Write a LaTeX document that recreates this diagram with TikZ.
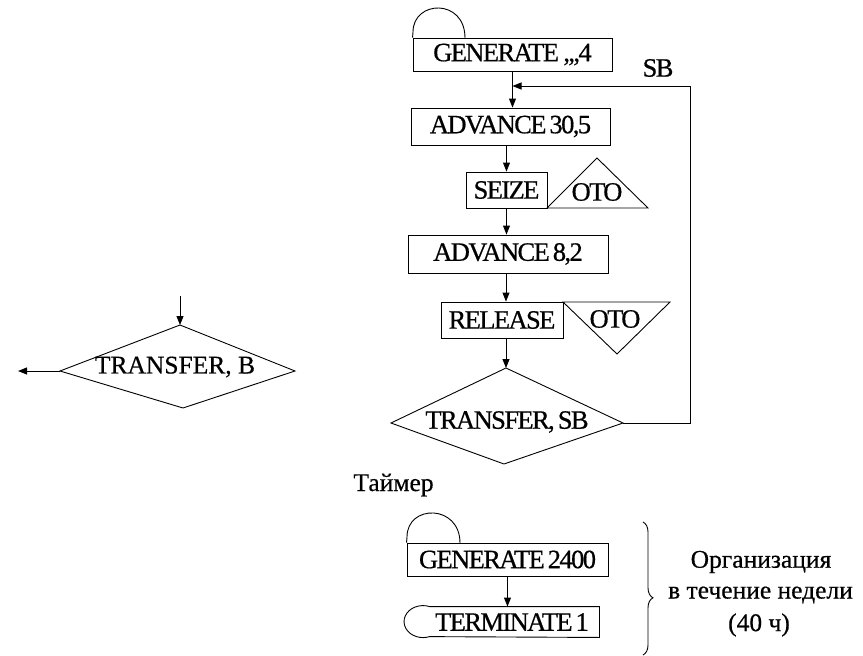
\documentclass[tikz,border=0pt]{standalone}
\usepackage{fontspec}
\setmainfont{Liberation Serif}[FakeBold=0.5]
\newfontfamily\blockfont[LetterSpace=-6,WordSpace=0.6,FakeBold=0.6]{Liberation Serif}
\usetikzlibrary{arrows.meta,decorations.pathreplacing}

\begin{document}
\begin{tikzpicture}[x=1pt,y=-1pt,
  line width=0.9pt,
  block/.style={draw, inner sep=0pt, font=\blockfont\fontsize{26.5}{28}\selectfont},
  blocktext/.style={inner sep=0pt, font=\blockfont\fontsize{26.5}{28}\selectfont},
  plain/.style={inner sep=0pt, font=\fontsize{25.5}{27}\selectfont},
  arr/.style={-{Triangle[length=9pt,width=7pt]}},
  ]
\useasboundingbox (0,0) rectangle (863,656);

% ---- main model: customers ----
\node[block, minimum width=199pt, minimum height=33pt] (gen1) at (512.5,54.5) {GENERATE\,,{},{},4};
\draw (gen1.north west) -- (413,32) .. controls (413,0) and (465,-2) .. (465,38);

\node[block, minimum width=199pt, minimum height=37pt] (adv1) at (510.5,126.5) {ADVANCE 30,5};
\node[block, minimum width=81pt, minimum height=36pt] (seize) at (506.5,190) {SEIZE};
\coordinate (t1L) at (547,208);
\coordinate (t1T) at (597,158);
\coordinate (t1R) at (648,208);
\draw (t1L) -- (t1T) -- (t1R) -- cycle;
\node[blocktext] (oto1) at (597,192) {OTO};

\node[block, minimum width=200pt, minimum height=38pt] (adv2) at (508,254) {ADVANCE 8,2};
\node[block, minimum width=122pt, minimum height=36pt] (rel) at (502,320) {RELEASE};
\coordinate (t2L) at (563,302);
\coordinate (t2R) at (670,302);
\coordinate (t2B) at (617,354);
\draw (t2L) -- (t2R) -- (t2B) -- cycle;
\node[blocktext] (oto2) at (615,319) {OTO};

\coordinate (sT) at (506,368);
\coordinate (sR) at (623,423);
\coordinate (sB) at (504,464);
\coordinate (sL) at (391,423);
\draw (sT) -- (sR) -- (sB) -- (sL) -- cycle;
\node[blocktext] (tsb) at (507,422) {TRANSFER, SB};

\draw[arr] (gen1.south) -- (gen1.south |- adv1.north);
\draw[arr] (adv1.south -| seize.north) -- (seize.north);
\draw[arr] (seize.south) -- (seize.south |- adv2.north);
\draw[arr] (adv2.south -| sT) -- (sT |- rel.north);
\draw[arr] (rel.south -| sT) -- (sT);

% loop back to label SB
\coordinate (loopTop) at (690,86);
\coordinate (join) at (512.5,86);
\draw[arr] (sR) -| (loopTop) -- (join);
\node[blocktext] (sb) at (658,68) {SB};

% ---- generic TRANSFER block ----
\coordinate (bT) at (180,325);
\coordinate (bR) at (295,371);
\coordinate (bB) at (183,408);
\coordinate (bL) at (60,371);
\draw (bT) -- (bR) -- (bB) -- (bL) -- cycle;
\node[plain] (tb) at (175,367) {TRANSFER, B};
\coordinate (bIn) at (180,296);
\coordinate (bOut) at (18,371);
\draw[arr] (bIn) -- (bT);
\draw[arr] (bL) -- (bOut);

% ---- timer segment ----
\node[plain] (timer) at (393.5,485) {Таймер};

\node[block, minimum width=201pt, minimum height=33pt] (gen2) at (507.5,559.5) {GENERATE 2400};
\draw (gen2.north west) -- (407,537) .. controls (407,504) and (460,504) .. (460,543);

\node[minimum width=169pt, minimum height=30pt, inner sep=0pt] (term) at (514.5,622) {};
\node[blocktext] (termtext) at (512,622) {TERMINATE 1};
\draw (term.north east) -- (term.north west)
  arc[start angle=-70, end angle=-290, x radius=19, y radius=16]
  -- (term.south east) -- cycle;

\draw[arr] (gen2.south) -- (gen2.south |- term.north);

\coordinate (brTop) at (643,522);
\coordinate (brBot) at (643,655);
\draw[decorate, decoration={brace, amplitude=10pt, aspect=0.57}] (brTop) -- (brBot);

\node[plain] (org1) at (761,562) {Организация};
\node[plain] (org2) at (760.5,595) {в течение недели};
\node[plain] (org3) at (759,625) {(40 ч)};
\end{tikzpicture}
\end{document}
